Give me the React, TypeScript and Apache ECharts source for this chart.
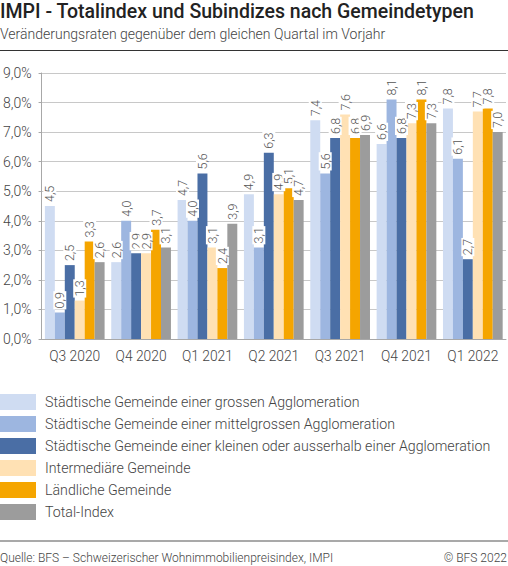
import React, { useEffect, useRef } from "react";
import * as echarts from "echarts";

const quarters = ["Q3 2020", "Q4 2020", "Q1 2021", "Q2 2021", "Q3 2021", "Q4 2021", "Q1 2022"];

const seriesNames = [
  "Städtische Gemeinde einer grossen Agglomeration",
  "Städtische Gemeinde einer mittelgrossen Agglomeration",
  "Städtische Gemeinde einer kleinen oder ausserhalb einer Agglomeration",
  "Intermediäre Gemeinde",
  "Ländliche Gemeinde",
  "Total-Index",
];

const grossAgglo = [4.5, 2.6, 4.7, 4.9, 7.4, 6.6, 7.8];
const mittelAgglo = [0.9, 4.0, 4.0, 3.1, 5.6, 8.1, 6.1];
const kleinAgglo = [2.5, 2.9, 5.6, 6.3, 6.8, 6.8, 2.7];
const intermediaer = [1.3, 2.9, 3.1, 4.9, 7.6, 7.3, 7.7];
const laendlich = [3.3, 3.7, 2.4, 5.1, 6.8, 8.1, 7.8];
const totalIndex = [2.6, 3.1, 3.9, 4.7, 6.9, 7.3, 7.0];

const colors = ["#cfdcf2", "#9db6e0", "#4a6ea5", "#ffe1b4", "#f5a500", "#9c9c9c"];

const fmt = (v: number) => v.toFixed(1).replace(".", ",");

const App = () => {
  const chartRef = useRef<HTMLDivElement>(null);

  useEffect(() => {
    document.body.style.margin = "0";
    if (!chartRef.current) return;
    const chart = echarts.init(chartRef.current, undefined, { renderer: "svg" });
    const values = [grossAgglo, mittelAgglo, kleinAgglo, intermediaer, laendlich, totalIndex];

    const option = {
      animation: false,
      textStyle: { fontFamily: "Roboto" },
      title: [
        {
          text: "IMPI - Totalindex und Subindizes nach Gemeindetypen",
          subtext: "Veränderungsraten gegenüber dem gleichen Quartal im Vorjahr",
          left: 0,
          top: 1,
          padding: 0,
          itemGap: 6,
          textStyle: { fontFamily: "Roboto", fontSize: 19.5, fontWeight: 500, color: "#222" },
          subtextStyle: { fontFamily: "Roboto", fontSize: 14, fontWeight: 300, color: "#444" },
        },
      ],
      graphic: [
        { type: "line", shape: { x1: 0, y1: 50.5, x2: 508, y2: 50.5 }, style: { stroke: "#333", lineWidth: 1 } },
        { type: "line", shape: { x1: 0, y1: 541, x2: 508, y2: 541 }, style: { stroke: "#8c8c8c", lineWidth: 1.5 } },
        {
          type: "text",
          left: 0,
          top: 552,
          style: {
            text: "Quelle: BFS – Schweizerischer Wohnimmobilienpreisindex, IMPI",
            font: "300 12px Roboto",
            fill: "#444",
          },
        },
        {
          type: "text",
          right: 1,
          top: 552,
          style: { text: "© BFS 2022", font: "300 12px Roboto", fill: "#444" },
        },
      ],
      legend: {
        orient: "vertical",
        left: 0,
        top: 394,
        padding: 0,
        itemWidth: 36,
        itemHeight: 16,
        itemGap: 6,
        icon: "rect",
        selectedMode: false,
        textStyle: {
          fontFamily: "Roboto",
          fontSize: 14.2,
          fontWeight: 300,
          color: "#444",
          lineHeight: 16,
          padding: [0, 0, 0, 4],
        },
        data: seriesNames,
      },
      grid: { left: 40, right: 2, top: 73, height: 266 },
      xAxis: {
        type: "category",
        data: quarters,
        axisLine: { lineStyle: { color: "#a8a8a8", width: 1 } },
        axisTick: { show: false },
        axisLabel: { color: "#444", fontSize: 13.8, fontWeight: 300, margin: 10, fontFamily: "Roboto" },
      },
      yAxis: {
        type: "value",
        min: 0,
        max: 9,
        interval: 1,
        axisLine: { show: true, lineStyle: { color: "#a8a8a8" } },
        axisTick: { show: true, length: 3, lineStyle: { color: "#a8a8a8" } },
        splitLine: { lineStyle: { color: "#c8c8c8", width: 1 } },
        axisLabel: {
          formatter: (v: number) => fmt(v) + "%",
          color: "#444",
          fontSize: 14,
          fontWeight: 300,
          margin: 10,
          fontFamily: "Roboto",
        },
      },
      series: seriesNames.map((name, i) => ({
        name,
        type: "bar",
        data: values[i],
        barGap: "0%",
        barCategoryGap: "10%",
        itemStyle: { color: colors[i] },
        label: {
          show: true,
          position: "top",
          rotate: 90,
          align: "left",
          verticalAlign: "middle",
          distance: 3,
          formatter: (p: any) => fmt(p.value),
          color: "#555",
          fontSize: 12.5,
          fontWeight: 300,
          fontFamily: "Roboto",
          backgroundColor: "#fff",
          padding: [0, 1],
        },
      })),
    };

    chart.setOption(option);
    return () => chart.dispose();
  }, []);

  return <div ref={chartRef} style={{ width: "508px", height: "566px" }} />;
};

export default App;
